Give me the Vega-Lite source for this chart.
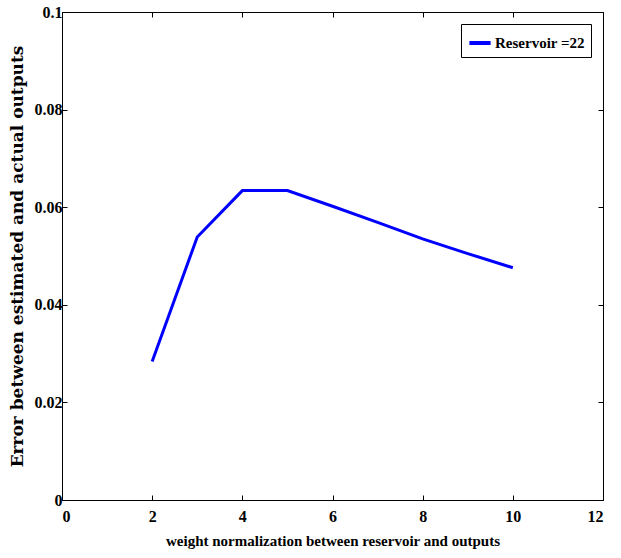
{
  "$schema": "https://vega.github.io/schema/vega-lite/v6.json",
  "width": 541,
  "height": 488,
  "autosize": "none",
  "padding": {"left": 62, "top": 12, "right": 18, "bottom": 58},
  "background": "white",
  "config": {
    "view": {"stroke": "black", "strokeWidth": 1},
    "axis": {
      "grid": false,
      "domain": false,
      "tickColor": "black",
      "tickSize": -5,
      "labelFont": "Liberation Serif",
      "labelFontWeight": "bold",
      "labelFontSize": 16,
      "labelColor": "black",
      "titleFont": "Liberation Serif",
      "titleFontWeight": "bold",
      "titleColor": "black"
    }
  },
  "data": {
    "values": [
      {"w": 2, "err": 0.0284, "series": "Reservoir =22"},
      {"w": 3, "err": 0.0539, "series": "Reservoir =22"},
      {"w": 4, "err": 0.0634, "series": "Reservoir =22"},
      {"w": 5, "err": 0.0634, "series": "Reservoir =22"},
      {"w": 6, "err": 0.0602, "series": "Reservoir =22"},
      {"w": 7, "err": 0.0569, "series": "Reservoir =22"},
      {"w": 8, "err": 0.0535, "series": "Reservoir =22"},
      {"w": 9, "err": 0.0505, "series": "Reservoir =22"},
      {"w": 10, "err": 0.0476, "series": "Reservoir =22"}
    ]
  },
  "layer": [
    {
      "mark": {"type": "line", "strokeWidth": 3},
      "encoding": {
        "x": {
          "field": "w", "type": "quantitative",
          "scale": {"domain": [0, 12], "nice": false},
          "axis": {"values": [0, 2, 4, 6, 8, 10, 12], "format": "~g", "title": "weight normalization between reservoir and outputs", "titleFontSize": 15, "labelPadding": 13, "titlePadding": 9, "orient": "bottom"}
        },
        "y": {
          "field": "err", "type": "quantitative",
          "scale": {"domain": [0, 0.1], "nice": false},
          "axis": {"values": [0, 0.02, 0.04, 0.06, 0.08, 0.1], "format": "~g", "title": "Error between estimated and actual outputs", "titleFont": "DejaVu Serif", "titleFontSize": 17, "labelPadding": 5, "titlePadding": 8, "orient": "left"}
        },
        "color": {
          "field": "series", "type": "nominal",
          "scale": {"range": ["#0000ff"]},
          "legend": {
            "title": null,
            "orient": "top-right",
            "offset": 12,
            "symbolType": "stroke",
            "symbolStrokeWidth": 4,
            "symbolSize": 450,
            "strokeColor": "black",
            "fillColor": "white",
            "padding": 6,
            "labelFont": "Liberation Serif",
            "labelFontSize": 15,
            "labelFontWeight": "bold",
            "labelColor": "black",
            "labelOffset": 2
          }
        }
      }
    },
    {
      "mark": {"type": "line", "opacity": 0},
      "encoding": {
        "x": {"field": "w", "type": "quantitative", "scale": {"domain": [0, 12], "nice": false}, "axis": {"orient": "top", "values": [0, 2, 4, 6, 8, 10, 12], "labels": false, "title": null}},
        "y": {"field": "err", "type": "quantitative", "scale": {"domain": [0, 0.1], "nice": false}, "axis": {"orient": "right", "values": [0, 0.02, 0.04, 0.06, 0.08, 0.1], "labels": false, "title": null}}
      }
    }
  ],
  "resolve": {"axis": {"x": "independent", "y": "independent"}}
}
